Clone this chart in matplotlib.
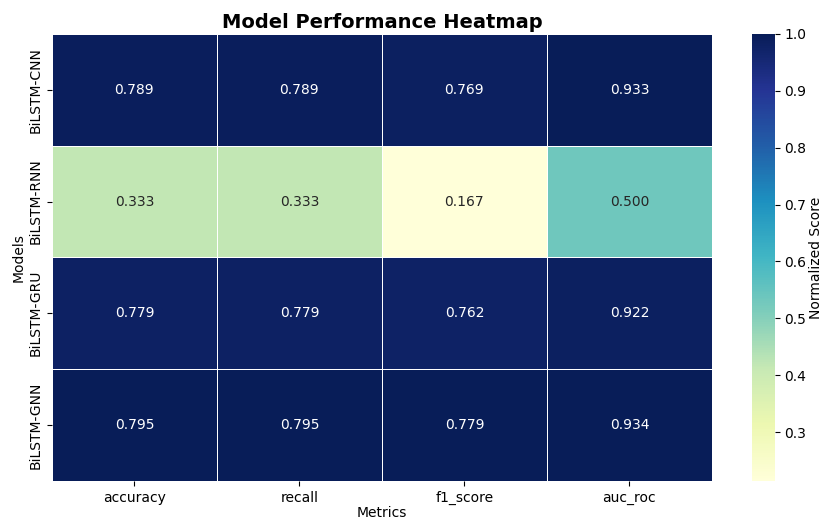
import numpy as np
import pandas as pd
import seaborn as sns
import matplotlib
matplotlib.use("Agg")
import matplotlib.pyplot as plt

# Raw scores per model
models = ["BiLSTM-CNN", "BiLSTM-RNN", "BiLSTM-GRU", "BiLSTM-GNN"]
metrics = ["accuracy", "recall", "f1_score", "auc_roc"]
accuracy = [0.789, 0.333, 0.779, 0.795]
recall = [0.789, 0.333, 0.779, 0.795]
f1_score = [0.769, 0.167, 0.762, 0.779]
auc_roc = [0.933, 0.500, 0.922, 0.934]

df = pd.DataFrame({"accuracy": accuracy, "recall": recall,
                   "f1_score": f1_score, "auc_roc": auc_roc}, index=models)

# colour = score divided by the best score of each metric
df_norm = df / df.max()

fig = plt.figure(figsize=(8.24, 5.2), dpi=100)
ax = fig.add_axes([0.063, 0.075, 0.801, 0.86])
cax = fig.add_axes([0.913, 0.075, 0.027, 0.86])

sns.heatmap(df_norm, annot=df.values, fmt=".3f", cmap="YlGnBu",
            linewidths=0.6, linecolor="white", ax=ax, cbar_ax=cax)

cax.set_ylabel("Normalized Score", labelpad=2)
ax.set_title("Model Performance Heatmap", fontsize=14, fontweight="bold", pad=4)
ax.set_xlabel("Metrics", labelpad=1)
ax.set_ylabel("Models", labelpad=2)

fig.savefig("out.png", dpi=100)
